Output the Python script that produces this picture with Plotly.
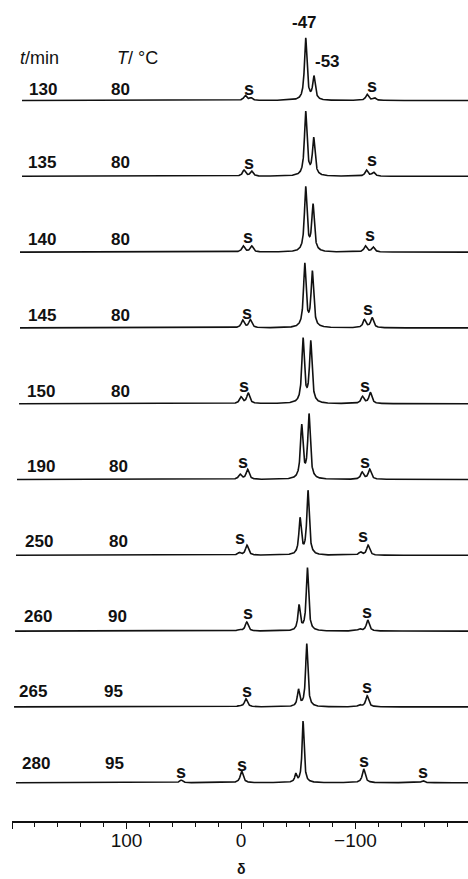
import numpy as np
import plotly.graph_objects as go

# ---------------- data ----------------
times = ["130", "135", "140", "145", "150", "190", "250", "260", "265", "280"]
temps = ["80", "80", "80", "80", "80", "80", "80", "90", "95", "95"]

# peak positions (delta / ppm)
pos_130 = [-56.5, -63.7, -3.7, -8.7, -110.2, -116.5]
pos_135 = [-56.5, -63.5, -2.6, -9.3, -109.6, -115.7]
pos_140 = [-56.5, -62.9, -2.0, -9.3, -108.7, -115.4]
pos_145 = [-55.7, -62.3, -1.5, -8.1, -107.8, -114.5]
pos_150 = [-54.2, -60.9, 0.0, -6.3, -106.1, -113.0]
pos_190 = [-53.0, -59.4, 0.9, -5.8, -105.8, -112.4]
pos_250 = [-51.6, -58.5, 1.5, -5.2, -104.3, -111.0]
pos_260 = [-50.7, -58.0, 1.7, -5.0, -103.5, -110.7]
pos_265 = [-50.2, -57.4, 1.7, -4.3, -103.5, -110.2]
pos_280 = [-47.8, -54.2, 52.2, -0.6, -107.2, -158.9]

# peak intensities (arbitrary units)
int_130 = [62, 23, 5, 2.5, 6, 2.5]
int_135 = [64, 37, 6, 5, 6, 4]
int_140 = [64, 46, 6, 6, 6, 5]
int_145 = [63, 55, 7.5, 8, 8, 10]
int_150 = [64, 61, 6.5, 10.5, 7, 11]
int_190 = [53, 64, 5, 10, 7, 10]
int_250 = [36, 64, 2.5, 10, 3, 10]
int_260 = [25, 63, 1.5, 9, 2, 11]
int_265 = [16.5, 63, 1, 8, 2, 11]
int_280 = [8, 61.5, 2.7, 11.7, 13.7, 2]

positions = [pos_130, pos_135, pos_140, pos_145, pos_150,
             pos_190, pos_250, pos_260, pos_265, pos_280]
intensities = [int_130, int_135, int_140, int_145, int_150,
               int_190, int_250, int_260, int_265, int_280]

# sideband ("s") marker positions (delta)
s_marks = [
    [-7.2, -114.5], [-7.2, -114.5], [-5.8, -113.0], [-4.9, -111.0],
    [-2.9, -108.7], [-1.5, -108.7], [0.6, -106.7], [-5.8, -110.2],
    [-4.9, -110.2], [52.2, -0.6, -107.8, -158.9],
]
axis_ticks = [200, 100, 0, -100]
axis_ticktext = ["", "100", "0", "\u2212100"]

# ---------------- layout helpers ----------------
W, H = 468, 879
AX_Y = 821                       # pixel row of the x axis
PX0, PX_PER_PPM = 240.0, 1.15    # pixel of delta=0, scale


def px2d(px):
    return (PX0 - px) / PX_PER_PPM


x_lo = 200.0
x_hi = px2d(W)
spacing = 75.8
base0 = AX_Y - 100.5
baselines = [base0 - spacing * i for i in range(len(times))]
start_px = [20, 20, 18, 18, 17, 15, 14, 13, 12, 14]
widths_main = [2.6, 2.6, 2.6, 2.6, 2.6, 2.6, 2.5, 2.4, 2.3, 2.1]
width_sb = 3.0
label_dy = [11, 14, 12.5, 12.5, 12.5, 13, 14, 15, 15, 19]
t_left_px = [28, 27, 27, 27, 26, 26, 24, 23, 18, 21]
T_left_px = [110, 110, 110, 110, 110, 108, 108, 107, 103, 104]
s_dy = [[13.5, 16.5], [15, 18], [16.5, 18.5], [16.6, 20], [19, 19],
        [19, 19], [19, 21], [20, 21], [17.6, 21.3], [12, 19.4, 23, 12.7]]
PAD = 3  # annotation inner padding in px

FONT = "Liberation Sans, Arial, Helvetica, sans-serif"
INK = "#111111"

fig = go.Figure()
grid = np.linspace(x_lo, x_hi, 4000)

for i in range(len(times)):
    xs = grid[grid <= px2d(start_px[i])]
    y = np.zeros_like(xs)
    for k, (p, h) in enumerate(zip(positions[i], intensities[i])):
        w = widths_main[i] if k < 2 else width_sb
        y += h / (1.0 + ((xs - p) / (w / 2.0)) ** 2)
    fig.add_trace(go.Scatter(x=xs, y=baselines[i] + y, mode="lines",
                             line=dict(color=INK, width=1.6),
                             hoverinfo="skip", showlegend=False))

ann = []
for i in range(len(times)):
    ann.append(dict(x=px2d(t_left_px[i] - PAD), y=baselines[i] + label_dy[i],
                    text="<b>" + times[i] + "</b>", xanchor="left", yanchor="middle",
                    showarrow=False, font=dict(size=17, color=INK, family=FONT)))
    ann.append(dict(x=px2d(T_left_px[i] - PAD), y=baselines[i] + label_dy[i],
                    text="<b>" + temps[i] + "</b>", xanchor="left", yanchor="middle",
                    showarrow=False, font=dict(size=17, color=INK, family=FONT)))
    for sx, sdy in zip(s_marks[i], s_dy[i]):
        ann.append(dict(x=sx, y=baselines[i] + sdy - 1.5, text="<b>s</b>",
                        xanchor="center", yanchor="middle", showarrow=False,
                        font=dict(size=18, color=INK, family=FONT)))

# header texts
ann.append(dict(x=px2d(19 - PAD), y=AX_Y - 58, text="<i>t</i>/min", xanchor="left",
                yanchor="middle", showarrow=False,
                font=dict(size=18, color=INK, family=FONT)))
ann.append(dict(x=px2d(116 - PAD), y=AX_Y - 58, text="<i>T</i>/ \u00b0C", xanchor="left",
                yanchor="middle", showarrow=False,
                font=dict(size=18, color=INK, family=FONT)))
ann.append(dict(x=px2d(303.5), y=AX_Y - 22, text="<b>-47</b>", xanchor="center",
                yanchor="middle", showarrow=False,
                font=dict(size=17, color=INK, family=FONT)))
ann.append(dict(x=px2d(326.5), y=AX_Y - 61, text="<b>-53</b>", xanchor="center",
                yanchor="middle", showarrow=False,
                font=dict(size=17, color=INK, family=FONT)))
# axis title (delta) below the axis, kept inside the page
ann.append(dict(x=0, xref="x", y=-(H - 1 - AX_Y) / AX_Y, yref="paper",
                text="<b>\u03b4</b>", xanchor="center", yanchor="bottom",
                borderpad=0, showarrow=False,
                font=dict(size=14, color=INK, family=FONT)))

fig.update_layout(
    width=W, height=H,
    margin=dict(l=12, r=0, t=0, b=H - AX_Y, pad=0),
    paper_bgcolor="white", plot_bgcolor="white",
    showlegend=False,
    annotations=ann,
    xaxis=dict(range=[x_lo, x_hi], showgrid=False, zeroline=False,
               showline=True, linecolor=INK, linewidth=1.5,
               ticks="outside", ticklen=6, tickwidth=1.4, tickcolor=INK,
               tickvals=axis_ticks, ticktext=axis_ticktext,
               tickfont=dict(size=19, color=INK, family=FONT),
               ticklabelstandoff=-5,
               minor=dict(ticks="outside", ticklen=4, tickwidth=1.2,
                          tickcolor=INK, dtick=20, tick0=0),
               fixedrange=True),
    yaxis=dict(range=[0, AX_Y], visible=False, fixedrange=True),
)

fig.write_html("out.html")
